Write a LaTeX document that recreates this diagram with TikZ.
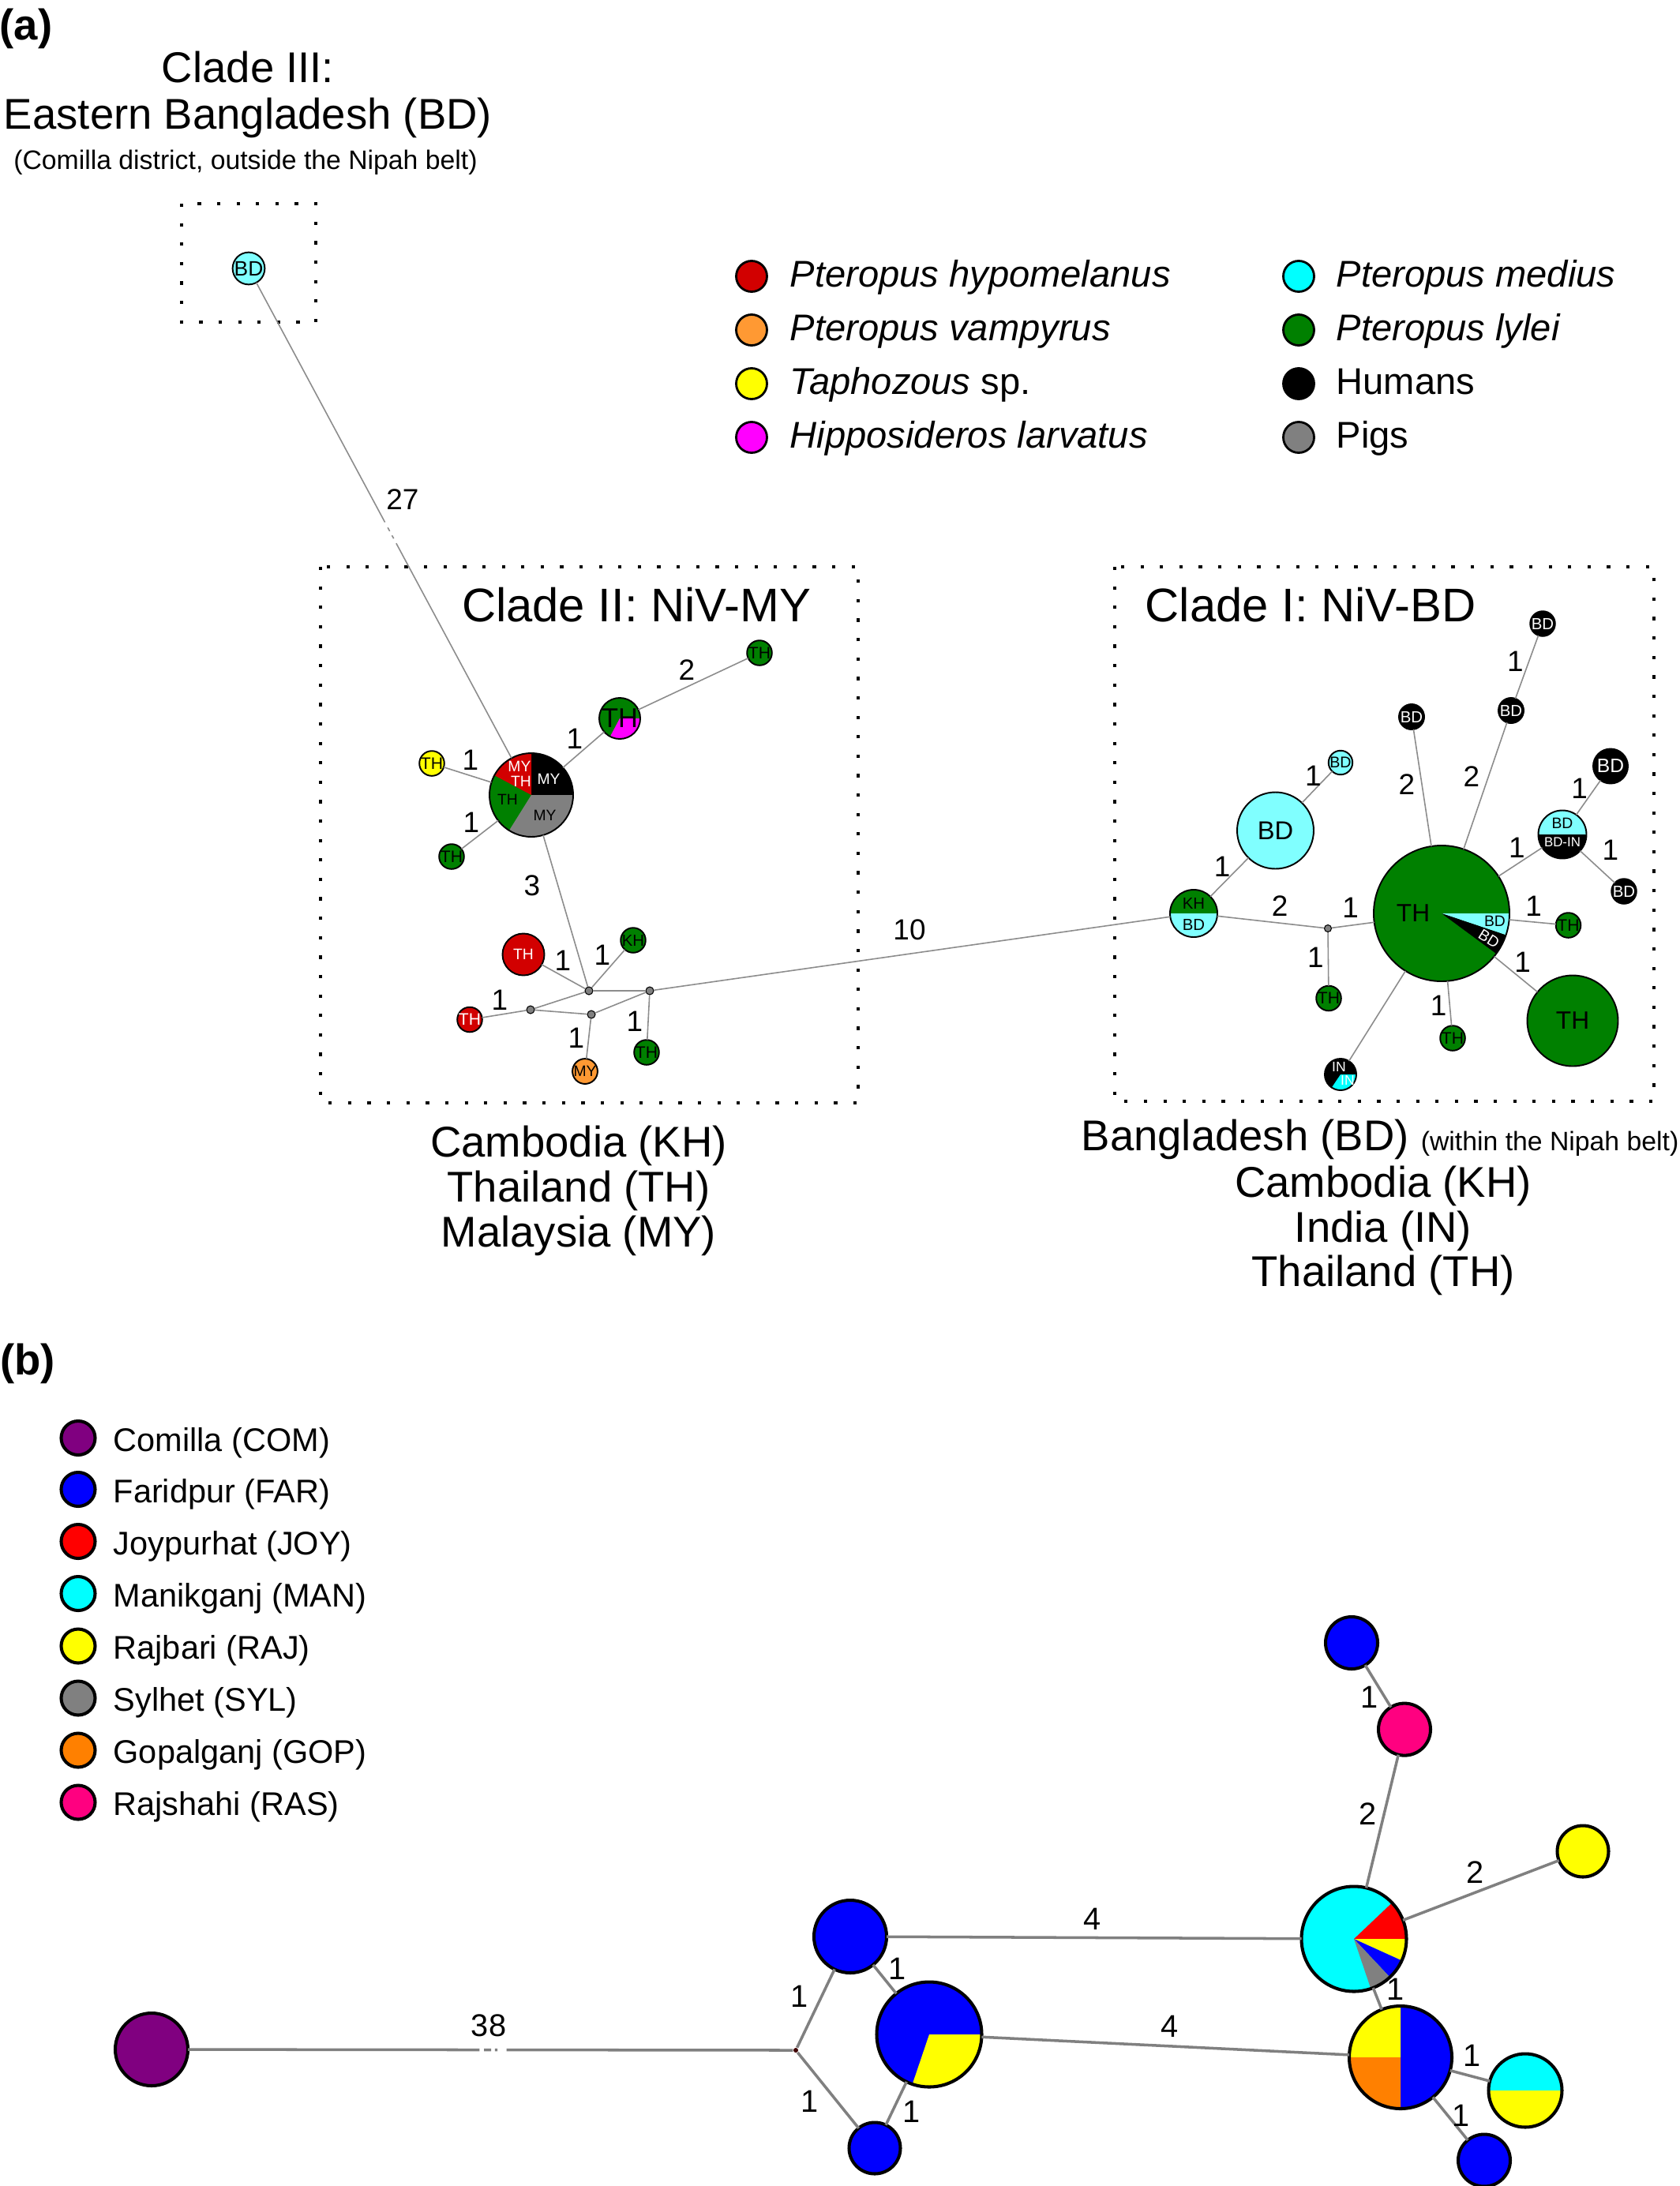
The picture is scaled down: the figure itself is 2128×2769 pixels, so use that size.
\documentclass[tikz,border=0pt]{standalone}
\usepackage{fontspec}
\setmainfont{Liberation Sans}
\usetikzlibrary{calc}
\definecolor{cHyp}{RGB}{210,0,0}
\definecolor{cVam}{RGB}{255,153,51}
\definecolor{cTap}{RGB}{255,255,0}
\definecolor{cHip}{RGB}{255,0,255}
\definecolor{cMed}{RGB}{0,255,255}
\definecolor{cMedL}{RGB}{128,255,255}
\definecolor{cLyl}{RGB}{0,128,0}
\definecolor{cPig}{RGB}{128,128,128}
\definecolor{eA}{RGB}{140,140,140}
\definecolor{eB}{RGB}{128,128,128}
\definecolor{bCOM}{RGB}{128,0,128}
\definecolor{bFAR}{RGB}{0,0,255}
\definecolor{bJOY}{RGB}{255,0,0}
\definecolor{bMAN}{RGB}{0,255,255}
\definecolor{bRAJ}{RGB}{255,255,0}
\definecolor{bSYL}{RGB}{128,128,128}
\definecolor{bGOP}{RGB}{255,128,0}
\definecolor{bRAS}{RGB}{255,0,128}
\newcommand{\pwedge}[3]{\fill[#1] (path picture bounding box.center) -- ++(#2:3cm) arc[start angle=#2, end angle=#3, radius=3cm] -- cycle;}
\tikzset{
  nda/.style={circle, draw=black, line width=0.55pt, inner sep=0pt, outer sep=0pt, text=black},
  ndb/.style={circle, draw=black, line width=1.15pt, inner sep=0pt, outer sep=0pt},
  sz/.style={minimum size=#1*0.01cm},
  jn/.style={circle, draw=black, line width=0.3pt, fill=cPig, inner sep=0pt, minimum size=0.1cm},
  ea/.style={draw=eA, line width=0.45pt},
  eb/.style={draw=eB, line width=1pt},
  dotbox/.style={draw=black, line width=1.2pt, dash pattern=on 1.2pt off 5.8pt},
  fs/.style={font=\fontsize{#1}{#1}\selectfont},
  ctxt/.style={fs=#1, anchor=base, inner sep=0pt, yshift=-0.358*#1pt},
  la/.style={fs=10.5, inner sep=0pt},
  lb/.style={fs=11.3, inner sep=0pt},
  nl/.style={fs=#1, inner sep=0pt},
  lgA/.style={fs=13.4, anchor=base west, inner sep=0pt},
  lgB/.style={fs=11.8, anchor=base west, inner sep=0pt},
  mkA/.style={nda, sz=39, line width=0.8pt},
  mkB/.style={ndb, sz=43},
}
\begin{document}
\begin{tikzpicture}[x=0.01cm, y=-0.01cm]
\fill[white] (0,0) rectangle (2128,2769);
\useasboundingbox (0,0) rectangle (2128,2769);

% ---------------- panel (a) ----------------
\node[font=\fontsize{15.5}{18}\selectfont\bfseries, inner sep=0pt] (pa) at (33,36) {(a)};
\node[ctxt=15.5] (t3a) at (314,85) {Clade III:};
\node[ctxt=15.5] (t3b) at (314,144) {Eastern Bangladesh (BD)};
\node[ctxt=9.6] (t3c) at (311,202) {(Comilla district, outside the Nipah belt)};
\draw[dotbox] (230,258) rectangle (400,408);
\node[nda, sz=40, fill=cMedL, nl=7.5] (c3) at (315,340) {BD};

% legend (a)
\node[mkA, fill=cHyp] (la1) at (952,350) {};
\node[lgA] (lt1) at (1000,363) {\itshape Pteropus hypomelanus};
\node[mkA, fill=cVam] (la2) at (952,418) {};
\node[lgA] (lt2) at (1000,431) {\itshape Pteropus vampyrus};
\node[mkA, fill=cTap] (la3) at (952,486) {};
\node[lgA] (lt3) at (1000,499) {\itshape Taphozous\/ \upshape sp.};
\node[mkA, fill=cHip] (la4) at (952,554) {};
\node[lgA] (lt4) at (1000,567) {\itshape Hipposideros larvatus};
\node[mkA, fill=cMed] (la5) at (1645,350) {};
\node[lgA] (lt5) at (1692,363) {\itshape Pteropus medius};
\node[mkA, fill=cLyl] (la6) at (1645,418) {};
\node[lgA] (lt6) at (1692,431) {\itshape Pteropus lylei};
\node[mkA, fill=black] (la7) at (1645,486) {};
\node[lgA] (lt7) at (1692,499) {Humans};
\node[mkA, fill=cPig] (la8) at (1645,554) {};
\node[lgA] (lt8) at (1692,567) {Pigs};

% Clade II
\draw[dotbox] (406,718) rectangle (1087,1397);
\node[ctxt=17] (t2) at (806,766) {Clade II: NiV-MY};
\node[nda, sz=106, fill=cLyl, path picture={\pwedge{black}{0}{90}\pwedge{cHyp}{90}{152}\pwedge{cPig}{238}{360}}] (p2c) at (673,1007) {};
\node[nl=5.5, text=white] (p2l1) at (658,971) {MY};
\node[nl=5.5, text=white] (p2l2) at (660,990) {TH};
\node[nl=5.5, text=white] (p2l3) at (695,987) {MY};
\node[nl=5.5] (p2l4) at (643,1013) {TH};
\node[nl=5.5] (p2l5) at (690,1033) {MY};
\node[nda, sz=52, fill=cLyl, nl=9.8, path picture={\pwedge{cHip}{-118}{0}}] (p2th) at (785,910) {TH};
\node[nda, sz=30, fill=cLyl, nl=6] (n2a) at (962,827) {TH};
\node[nda, sz=30, fill=cTap, nl=6] (n2y) at (547,967) {TH};
\node[nda, sz=30, fill=cLyl, nl=6] (n2g) at (572,1085) {TH};
\node[nda, sz=53, fill=cHyp, nl=5.5, text=white] (n2r) at (663,1209) {TH};
\node[jn] (j1) at (746,1255) {};
\node[nda, sz=30, fill=cLyl, nl=5.8] (n2kh) at (802,1191) {KH};
\node[jn] (j2) at (823,1255) {};
\node[jn] (j3) at (672,1279) {};
\node[jn] (j4) at (749,1285) {};
\node[nda, sz=29, fill=cHyp, nl=6, text=white] (n2r2) at (595,1291.5) {TH};
\node[nda, sz=30, fill=cVam, nl=5.5] (n2o) at (741,1357) {MY};
\node[nda, sz=30, fill=cLyl, nl=6] (n2g2) at (819,1333) {TH};

% Clade I
\draw[dotbox] (1412,718) rectangle (2095,1395);
\node[ctxt=17] (t1) at (1660,766) {Clade I: NiV-BD};
\node[nda, sz=172, fill=cLyl, path picture={\pwedge{cMedL}{-18.6}{0}\pwedge{black}{-36.4}{-18.6}}] (thb) at (1826,1157) {};
\node[nl=9] (thbl) at (1790,1157) {TH};
\node[nl=5.5] (thbl2) at (1893.5,1167) {BD};
\node[nl=5.5, text=white, rotate=-32] (thbl3) at (1886,1189) {BD};
\node[jn, minimum size=0.09cm] (jc) at (1682,1176) {};
\node[nda, sz=60, fill=cLyl, path picture={\pwedge{cMedL}{180}{360}}] (kb) at (1512,1157) {};
\node[nl=5.8] (kbl1) at (1512,1144) {KH};
\node[nl=5.8] (kbl2) at (1512,1171) {BD};
\node[nda, sz=97, fill=cMedL, nl=9.3] (bdb) at (1615.5,1052) {BD};
\node[nda, sz=30, fill=cMedL, nl=5.6] (bds) at (1698,966) {BD};
\node[nda, sz=30, fill=cLyl, nl=6] (g1) at (1683,1264.5) {TH};
\node[nda, sz=32, fill=black, text=white, nl=5.8] (hA) at (1788,908) {BD};
\node[nda, sz=32, fill=black, text=white, nl=5.8] (hB) at (1914,900) {BD};
\node[nda, sz=31, fill=black, text=white, nl=5.8] (hT) at (1954,790) {BD};
\node[nda, sz=61, fill=cMedL, path picture={\pwedge{black}{180}{360}}] (bdin) at (1979,1057) {};
\node[nl=5.5] (bdinl1) at (1979,1042.5) {BD};
\node[nl=4.8, text=white] (bdinl2) at (1979,1067) {BD-IN};
\node[nda, sz=44, fill=black, text=white, nl=7] (hBig) at (2040,970.5) {BD};
\node[nda, sz=30, fill=black, text=white, nl=5.8] (hS) at (2057,1129) {BD};
\node[nda, sz=30, fill=cLyl, nl=6] (g2) at (1986.5,1172) {TH};
\node[nda, sz=115, fill=cLyl, nl=9] (gBig) at (1992,1293) {TH};
\node[nda, sz=30, fill=cLyl, nl=6] (g3) at (1840,1315) {TH};
\node[nda, sz=40, fill=black, path picture={\pwedge{cMed}{-124}{0}}] (inn) at (1698,1361) {};
\node[nl=5, text=white] (innl1) at (1696,1351) {IN};
\node[nl=5, text=white] (innl2) at (1707,1368) {IN};

% edges (a)
\draw[ea] (c3) -- ($(c3)!0.482!(p2c)$);
\draw[ea] ($(c3)!0.492!(p2c)$) -- ($(c3)!0.499!(p2c)$);
\draw[ea] ($(c3)!0.507!(p2c)$) -- ($(c3)!0.513!(p2c)$);
\draw[ea] ($(c3)!0.522!(p2c)$) -- (p2c);
\draw[ea] (p2c) -- (p2th);
\draw[ea] (p2th) -- (n2a);
\draw[ea] (p2c) -- (n2y);
\draw[ea] (p2c) -- (n2g);
\draw[ea] (p2c) -- (j1);
\draw[ea] (j1) -- (n2r);
\draw[ea] (j1) -- (n2kh);
\draw[ea] (j1) -- (j2);
\draw[ea] (j1) -- (j3);
\draw[ea] (j3) -- (n2r2);
\draw[ea] (j3) -- (j4);
\draw[ea] (j4) -- (j2);
\draw[ea] (j4) -- (n2o);
\draw[ea] (j2) -- (n2g2);
\draw[ea] (j2) -- (kb);
\draw[ea] (kb) -- (jc);
\draw[ea] (jc) -- (thb);
\draw[ea] (kb) -- (bdb);
\draw[ea] (bdb) -- (bds);
\draw[ea] (jc) -- (g1);
\draw[ea] (thb) -- (hA);
\draw[ea] (thb) -- (hB);
\draw[ea] (hB) -- (hT);
\draw[ea] (thb) -- (bdin);
\draw[ea] (bdin) -- (hBig);
\draw[ea] (bdin) -- (hS);
\draw[ea] (thb) -- (g2);
\draw[ea] (thb) -- (gBig);
\draw[ea] (thb) -- (g3);
\draw[ea] (thb) -- (inn);

% edge labels (a)
\node[la] (e27) at (510,633) {27};
\node[la] (e10) at (1152,1178) {10};
\node[la] (ea1) at (870,849) {2};
\node[la] (ea2) at (728,936) {1};
\node[la] (ea3) at (596,963) {1};
\node[la] (ea4) at (597,1041.5) {1};
\node[la] (ea5) at (674,1122) {3};
\node[la] (ea6) at (713,1216.5) {1};
\node[la] (ea7) at (763,1210) {1};
\node[la] (ea8) at (633,1266.5) {1};
\node[la] (ea9) at (730,1314.6) {1};
\node[la] (ea10) at (804,1293.5) {1};
\node[la] (eb1) at (1621,1148) {2};
\node[la] (eb2) at (1710.7,1149.5) {1};
\node[la] (eb3) at (1548,1097.4) {1};
\node[la] (eb4) at (1663.4,983.2) {1};
\node[la] (eb5) at (1666.3,1212.9) {1};
\node[la] (eb6) at (1781.8,993.8) {2};
\node[la] (eb7) at (1863.9,983.2) {2};
\node[la] (eb8) at (1919.3,838.1) {1};
\node[la] (eb9) at (1921.4,1074.2) {1};
\node[la] (eb10) at (2000.5,998.9) {1};
\node[la] (eb11) at (2039.8,1076.3) {1};
\node[la] (eb12) at (1942.5,1148.2) {1};
\node[la] (eb13) at (1928.6,1218.9) {1};
\node[la] (eb14) at (1822,1273.8) {1};

% country labels
\node[ctxt=15.5] (k1) at (733,1446) {Cambodia (KH)};
\node[ctxt=15.5] (k2) at (733,1503) {Thailand (TH)};
\node[ctxt=15.5] (k3) at (733,1560) {Malaysia (MY)};
\node[ctxt=15.5] (k4) at (1748,1438) {Bangladesh (BD) {\fontsize{9.6}{11}\selectfont (within the Nipah belt)}};
\node[ctxt=15.5] (k5) at (1752,1497) {Cambodia (KH)};
\node[ctxt=15.5] (k6) at (1752,1554) {India (IN)};
\node[ctxt=15.5] (k7) at (1752,1610) {Thailand (TH)};

% ---------------- panel (b) ----------------
\node[font=\fontsize{15.5}{18}\selectfont\bfseries, inner sep=0pt] (pb) at (35,1727) {(b)};
\node[mkB, fill=bCOM] (lb1) at (99,1821.5) {};
\node[lgB] (lbt1) at (143,1838) {Comilla (COM)};
\node[mkB, fill=bFAR] (lb2) at (99,1886.5) {};
\node[lgB] (lbt2) at (143,1903) {Faridpur (FAR)};
\node[mkB, fill=bJOY] (lb3) at (99,1952.5) {};
\node[lgB] (lbt3) at (143,1969) {Joypurhat (JOY)};
\node[mkB, fill=bMAN] (lb4) at (99,2018.5) {};
\node[lgB] (lbt4) at (143,2035) {Manikganj (MAN)};
\node[mkB, fill=bRAJ] (lb5) at (99,2085) {};
\node[lgB] (lbt5) at (143,2101.5) {Rajbari (RAJ)};
\node[mkB, fill=bSYL] (lb6) at (99,2151) {};
\node[lgB] (lbt6) at (143,2167.5) {Sylhet (SYL)};
\node[mkB, fill=bGOP] (lb7) at (99,2217) {};
\node[lgB] (lbt7) at (143,2233.5) {Gopalganj (GOP)};
\node[mkB, fill=bRAS] (lb8) at (99,2283) {};
\node[lgB] (lbt8) at (143,2299.5) {Rajshahi (RAS)};

\node[ndb, sz=92, fill=bCOM] (com) at (192,2596) {};
\node[circle, fill=black!75!red, inner sep=0pt, minimum size=0.06cm] (jb) at (1008,2597) {};
\node[ndb, sz=92, fill=bFAR] (f1) at (1077,2453) {};
\node[ndb, sz=133, fill=bFAR, path picture={\pwedge{bRAJ}{-108.7}{0}}] (fr) at (1177,2577) {};
\node[ndb, sz=65, fill=bFAR] (f2) at (1108,2721) {};
\node[ndb, sz=133, fill=bMAN, path picture={\pwedge{bJOY}{0}{43.5}\pwedge{bRAJ}{-24.4}{0}\pwedge{bFAR}{-46.8}{-24.4}\pwedge{bSYL}{-71.3}{-46.8}}] (man) at (1715,2456) {};
\node[ndb, sz=66, fill=bFAR] (f3) at (1712,2081) {};
\node[ndb, sz=66, fill=bRAS] (ras) at (1779,2190.6) {};
\node[ndb, sz=65, fill=bRAJ] (raj) at (2005,2345) {};
\node[ndb, sz=130, fill=bFAR, path picture={\pwedge{bRAJ}{90}{180}\pwedge{bGOP}{180}{270}}] (q4) at (1774,2606) {};
\node[ndb, sz=93, fill=bMAN, path picture={\pwedge{bRAJ}{180}{360}}] (cy) at (1932,2648) {};
\node[ndb, sz=66, fill=bFAR] (f4) at (1880,2736.5) {};

\draw[eb] (com) -- ($(com)!0.509!(jb)$);
\draw[eb] ($(com)!0.516!(jb)$) -- ($(com)!0.527!(jb)$);
\draw[eb] ($(com)!0.533!(jb)$) -- ($(com)!0.537!(jb)$);
\draw[eb] ($(com)!0.551!(jb)$) -- (jb);
\draw[eb] (jb) -- (f1);
\draw[eb] (jb) -- (f2);
\draw[eb] (f1) -- (fr);
\draw[eb] (fr) -- (f2);
\draw[eb] (f1) -- (man);
\draw[eb] (fr) -- (q4);
\draw[eb] (man) -- (ras);
\draw[eb] (ras) -- (f3);
\draw[eb] (man) -- (raj);
\draw[eb] (man) -- (q4);
\draw[eb] (q4) -- (cy);
\draw[eb] (q4) -- (f4);

\node[lb] (l38) at (619,2566) {38};
\node[lb] (lb_1) at (1012.7,2528.3) {1};
\node[lb] (lb_2) at (1026,2661.7) {1};
\node[lb] (lb_3) at (1136.7,2493.3) {1};
\node[lb] (lb_4) at (1155,2675) {1};
\node[lb] (lb_5) at (1384,2431) {4};
\node[lb] (lb_6) at (1482,2567) {4};
\node[lb] (lb_7) at (1734.3,2150.2) {1};
\node[lb] (lb_8) at (1732.7,2298) {2};
\node[lb] (lb_9) at (1868.3,2372) {2};
\node[lb] (lb_10) at (1767.7,2519.7) {1};
\node[lb] (lb_11) at (1864.3,2603.4) {1};
\node[lb] (lb_12) at (1850.7,2679.8) {1};
\end{tikzpicture}
\end{document}
